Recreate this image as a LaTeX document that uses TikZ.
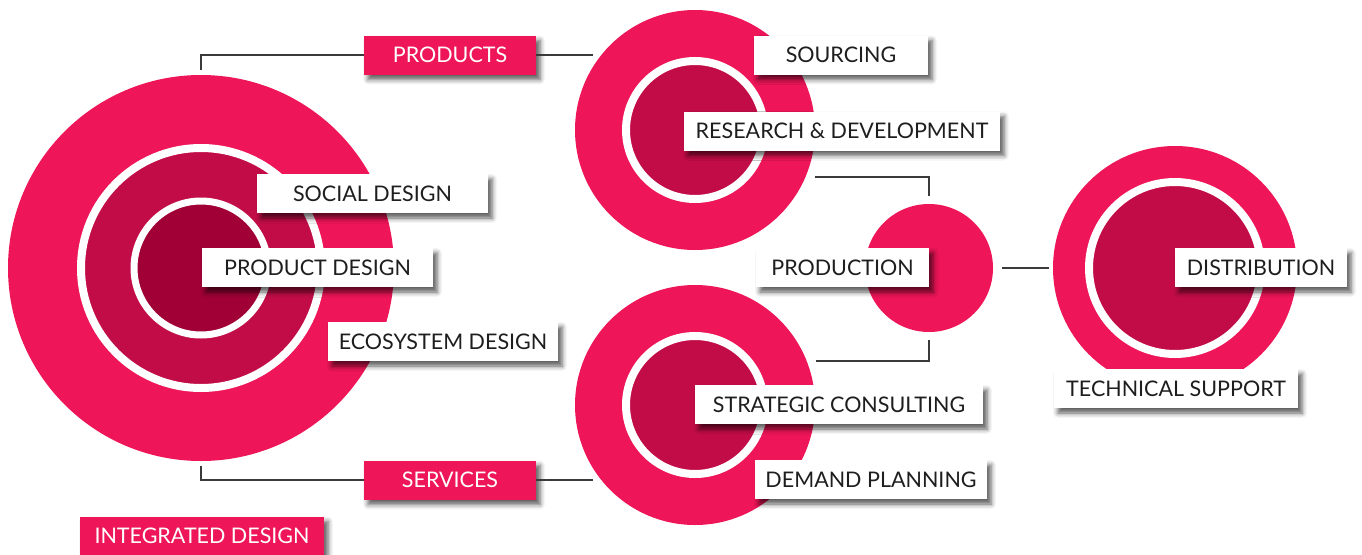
\documentclass[tikz,border=0pt]{standalone}
\usepackage{fontspec}
\setmainfont{Lato}
\usetikzlibrary{shadows.blur}
\definecolor{pinkc}{HTML}{EE1558}
\definecolor{midc}{HTML}{C20C48}
\definecolor{deepc}{HTML}{A00035}
\definecolor{inkc}{HTML}{1E1E1E}
\definecolor{linec}{HTML}{3A3A3A}
\begin{document}
\begin{tikzpicture}[x=1pt,y=-1pt,
    disc/.style = {circle, inner sep=0, fill=pinkc, minimum size=#1},
    ring/.style = {circle, inner sep=0, fill=midc, draw=white, line width=8pt, minimum size=#1},
    tag/.style = {fill=white, text=inkc, minimum height=39pt, minimum width=#1, inner sep=0,
        font=\fontsize{21.5}{25}\selectfont,
        blur shadow={shadow xshift=4pt, shadow yshift=-5pt, shadow blur radius=5pt, shadow opacity=65}},
    hot/.style = {tag=#1, fill=pinkc, text=white},
    link/.style = {draw=linec, line width=1.3pt}]
    \useasboundingbox (0,0) rectangle (1362,554);

    % circles
    \node[disc=386] (design) at (201,268) {};
    \node[ring=240] (designmid) at (201,268) {};
    \node[ring=134, fill=deepc, line width=7pt] (designin) at (201,268) {};
    \node[disc=240] (prodcirc) at (695,130) {};
    \node[ring=138] (prodin) at (695,130) {};
    \node[disc=240] (servcirc) at (695,405) {};
    \node[ring=138] (servin) at (695,405) {};
    \node[disc=128] (makecirc) at (929,268) {};
    \node[disc=244] (distcirc) at (1175,268) {};
    \node[ring=172] (distin) at (1175,268) {};

    % free ends
    \coordinate (prodend) at (593,55);
    \coordinate (servend) at (593,480);
    \coordinate (rdend) at (815,177);
    \coordinate (scend) at (816,361);

    % labels
    \node[hot=172] (products) at (450,55) {PRODUCTS};
    \node[hot=172] (services) at (450,480) {SERVICES};
    \node[hot=244] (integrated) at (202,536) {INTEGRATED DESIGN};
    \node[tag=174] (sourcing) at (841,55) {SOURCING};
    \node[tag=316] (research) at (842,131) {RESEARCH \& DEVELOPMENT};
    \node[tag=231] (social) at (372.5,193.5) {SOCIAL DESIGN};
    \node[tag=231] (product) at (317.5,267.5) {PRODUCT DESIGN};
    \node[tag=230] (ecosystem) at (443,341.5) {ECOSYSTEM DESIGN};
    \node[tag=173] (production) at (842.5,267.5) {PRODUCTION};
    \node[tag=172] (distribution) at (1261,267.5) {DISTRIBUTION};
    \node[tag=244] (support) at (1176,388.5) {TECHNICAL SUPPORT};
    \node[tag=288] (consulting) at (839,404.5) {STRATEGIC CONSULTING};
    \node[tag=232] (planning) at (871,479.5) {DEMAND PLANNING};

    % connectors
    \draw[link] ([yshift=5pt]design.north) |- (products.west);
    \draw[link] (products.east) -- (prodend);
    \draw[link] ([yshift=-5pt]design.south) |- (services.west);
    \draw[link] (services.east) -- (servend);
    \draw[link] (rdend) -| ([yshift=8pt]makecirc.north);
    \draw[link] (scend) -| ([yshift=-8pt]makecirc.south);
    \draw[link] ([xshift=9pt]makecirc.east) -- ([xshift=-4pt]distcirc.west);
\end{tikzpicture}
\end{document}
